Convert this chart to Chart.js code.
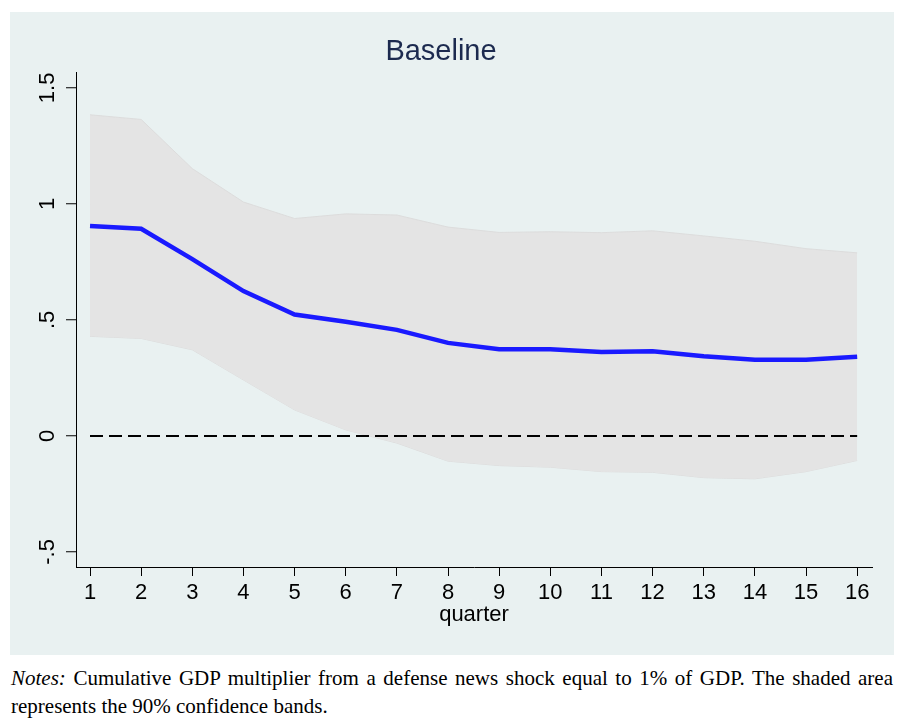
<!DOCTYPE html>
<html>
<head>
<meta charset="utf-8">
<script src="https://cdn.jsdelivr.net/npm/chart.js@4.4.1/dist/chart.umd.min.js"></script>
<style>
  html, body { margin: 0; padding: 0; background: #ffffff; }
  body { width: 906px; height: 726px; position: relative; overflow: hidden; }
  #panel { position: absolute; left: 10px; top: 12px; width: 884px; height: 643px; background: #e9f1f1; }
  #notes { position: absolute; left: 11px; top: 664px; width: 882px; font-family: "Liberation Serif", "Times New Roman", serif; font-size: 21px; line-height: 28px; color: #000; }
  #notes .l1 { text-align: justify; text-align-last: justify; }
</style>
</head>
<body>
<div id="panel"><canvas id="irfChart" width="884" height="643"></canvas></div>
<div id="notes">
  <div class="l1"><i>Notes:</i> Cumulative GDP multiplier from a defense news shock equal to 1% of GDP. The shaded area</div>
  <div>represents the 90% confidence bands.</div>
</div>
<script>
// dữ liệu
const quarters = [1, 2, 3, 4, 5, 6, 7, 8, 9, 10, 11, 12, 13, 14, 15, 16];
const multiplier = [0.905, 0.893, 0.762, 0.624, 0.523, 0.492, 0.457, 0.401, 0.374, 0.374, 0.362, 0.365, 0.343, 0.328, 0.328, 0.341];
const upperBand = [1.384, 1.364, 1.152, 1.008, 0.937, 0.957, 0.952, 0.900, 0.877, 0.880, 0.876, 0.884, 0.862, 0.839, 0.807, 0.789];
const lowerBand = [0.429, 0.420, 0.371, 0.241, 0.112, 0.026, -0.031, -0.109, -0.128, -0.135, -0.154, -0.157, -0.180, -0.185, -0.154, -0.106];
const yTickValues = [-0.5, 0, 0.5, 1, 1.5];
const yTickLabels = ["-.5", "0", ".5", "1", "1.5"];
const zeroLevel = 0;

const toPoints = (vals) => quarters.map((q, i) => ({ x: q, y: vals[i] }));

// vẽ nhãn trục y xoay 90 độ
const rotatedYLabels = {
  id: "rotatedYLabels",
  afterDraw(chart) {
    const ctx = chart.ctx;
    const ys = chart.scales.y;
    ctx.save();
    ctx.fillStyle = "#000";
    ctx.font = "22px 'Liberation Sans', Arial, sans-serif";
    ctx.textAlign = "center";
    ctx.textBaseline = "alphabetic";
    yTickValues.forEach((v, i) => {
      const py = ys.getPixelForValue(v);
      ctx.save();
      ctx.translate(ys.right - 22, py);
      ctx.rotate(-Math.PI / 2);
      ctx.fillText(yTickLabels[i], 0, 0);
      ctx.restore();
    });
    ctx.restore();
  },
};

const ctx = document.getElementById("irfChart").getContext("2d");
new Chart(ctx, {
  type: "line",
  data: {
    datasets: [
      {
        label: "multiplier",
        data: toPoints(multiplier),
        borderColor: "#1a1aff",
        borderWidth: 4.5,
        pointRadius: 0,
        fill: false,
        order: 0,
      },
      {
        label: "zero",
        data: [{ x: quarters[0], y: zeroLevel }, { x: quarters[quarters.length - 1], y: zeroLevel }],
        borderColor: "#000",
        borderWidth: 2,
        borderDash: [13, 6],
        pointRadius: 0,
        fill: false,
        order: 1,
      },
      {
        label: "upper",
        data: toPoints(upperBand),
        borderColor: "#dcdcdc",
        borderWidth: 1,
        backgroundColor: "#e4e4e4",
        pointRadius: 0,
        fill: "+1",
        order: 2,
      },
      {
        label: "lower",
        data: toPoints(lowerBand),
        borderColor: "#dcdcdc",
        borderWidth: 1,
        pointRadius: 0,
        fill: false,
        order: 3,
      },
    ],
  },
  options: {
    responsive: false,
    animation: false,
    layout: { padding: { left: 0, right: 22, top: 0, bottom: 0 } },
    plugins: {
      legend: { display: false },
      tooltip: { enabled: false },
      title: {
        display: true,
        text: "Baseline",
        color: "#1c2a4f",
        font: { family: "'Liberation Sans', Arial, sans-serif", size: 29, weight: "normal" },
        padding: { top: 23, bottom: 3 },
      },
    },
    scales: {
      x: {
        type: "linear",
        min: 0.726,
        max: 16.29,
        afterBuildTicks: (s) => { s.ticks = quarters.map((q) => ({ value: q })); },
        afterFit: (s) => { s.height = 88; },
        grid: { display: true, drawOnChartArea: false, tickLength: 9, tickColor: "#000", tickWidth: 1 },
        border: { color: "#000", width: 1 },
        ticks: {
          color: "#000",
          padding: 4,
          maxRotation: 0,
          autoSkip: false,
          font: { family: "'Liberation Sans', Arial, sans-serif", size: 22 },
          callback: (v) => String(v),
        },
        title: {
          display: true,
          text: "quarter",
          color: "#000",
          font: { family: "'Liberation Sans', Arial, sans-serif", size: 22 },
          padding: { top: 0, bottom: 27 },
        },
      },
      y: {
        min: -0.565,
        max: 1.565,
        afterBuildTicks: (s) => { s.ticks = yTickValues.map((v) => ({ value: v })); },
        afterFit: (s) => { s.width = 66; },
        grid: { color: "#e9f1f1", lineWidth: 1.5, tickLength: 10, tickColor: "#000", tickWidth: 1 },
        border: { color: "#000", width: 1 },
        ticks: { display: false },
      },
    },
  },
  plugins: [rotatedYLabels],
});
</script>
</body>
</html>
